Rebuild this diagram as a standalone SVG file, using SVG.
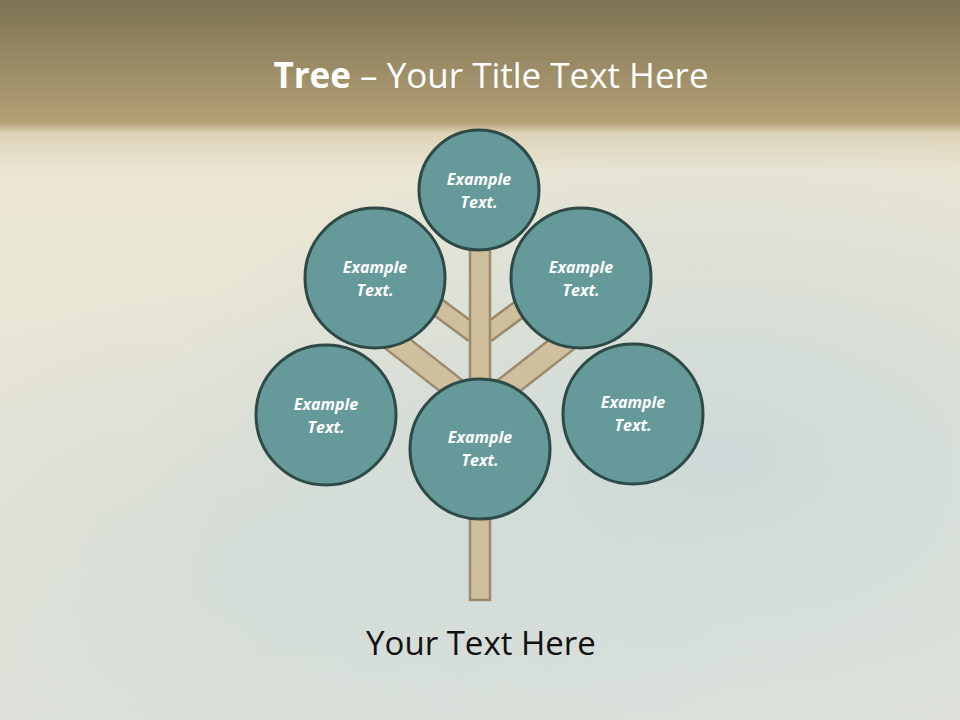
<svg xmlns="http://www.w3.org/2000/svg" width="960" height="720" viewBox="0 0 960 720">
<defs>
<linearGradient id="bg" x1="0" y1="0" x2="0" y2="1">
<stop offset="0" stop-color="#7d7353"/>
<stop offset="0.17" stop-color="#b4a176"/>
<stop offset="0.185" stop-color="#ddd3b8"/>
<stop offset="0.24" stop-color="#ebe6d4"/>
<stop offset="1" stop-color="#e0e3da"/>
</linearGradient>
<radialGradient id="blue" cx="0.75" cy="0.55" r="0.6">
<stop offset="0" stop-color="#c4d6d9" stop-opacity="0.75"/>
<stop offset="1" stop-color="#c4d6d9" stop-opacity="0"/>
</radialGradient>
<radialGradient id="blue2" cx="0.3" cy="0.75" r="0.5">
<stop offset="0" stop-color="#cad8d6" stop-opacity="0.6"/>
<stop offset="1" stop-color="#cad8d6" stop-opacity="0"/>
</radialGradient>
<style>
.node circle{fill:#669a9a;stroke:#2d4a47;stroke-width:3}
.node text{font-family:"Open Sans","Noto Sans",sans-serif;font-weight:bold;font-style:italic;font-size:16px;fill:#ffffff;text-anchor:middle}
.br-out{stroke:#9a8a6d;stroke-linecap:butt;fill:none}
.br-in{stroke:#cfbf9c;stroke-linecap:butt;fill:none}
</style>
</defs>
<rect x="0" y="0" width="960" height="720" fill="url(#bg)"/>
<rect x="0" y="135" width="960" height="585" fill="url(#blue)"/>
<rect x="0" y="135" width="960" height="585" fill="url(#blue2)"/>

<text x="491" y="88" text-anchor="middle" font-family="Open Sans, Noto Sans, sans-serif" font-size="35" fill="#ffffff"><tspan font-weight="bold">Tree</tspan> – Your Title Text Here</text>

<g id="connectors">
<line class="br-out" x1="380" y1="330" x2="472" y2="402" stroke-width="25"/>
<line class="br-in" x1="380" y1="330" x2="472" y2="402" stroke-width="20"/>
<line class="br-out" x1="580" y1="330" x2="488" y2="402" stroke-width="25"/>
<line class="br-in" x1="580" y1="330" x2="488" y2="402" stroke-width="20"/>
<line class="br-out" x1="420" y1="294" x2="474" y2="334" stroke-width="20"/>
<line class="br-in" x1="420" y1="294" x2="474" y2="334" stroke-width="15"/>
<line class="br-out" x1="540" y1="294" x2="486" y2="334" stroke-width="20"/>
<line class="br-in" x1="540" y1="294" x2="486" y2="334" stroke-width="15"/>
<rect x="470" y="240" width="20" height="360" fill="#cfbf9c" stroke="#9a8a6d" stroke-width="2.5"/>
</g>

<g id="node-top" class="node"><circle cx="479" cy="190" r="60"/><text x="479" y="185">Example</text><text x="479" y="208">Text.</text></g>
<g id="node-upper-left" class="node"><circle cx="375" cy="278" r="70"/><text x="375" y="273">Example</text><text x="375" y="296">Text.</text></g>
<g id="node-upper-right" class="node"><circle cx="581" cy="278" r="70"/><text x="581" y="273">Example</text><text x="581" y="296">Text.</text></g>
<g id="node-lower-left" class="node"><circle cx="326" cy="415" r="70"/><text x="326" y="410">Example</text><text x="326" y="433">Text.</text></g>
<g id="node-center" class="node"><circle cx="480" cy="449" r="70"/><text x="480" y="443">Example</text><text x="480" y="466">Text.</text></g>
<g id="node-right" class="node"><circle cx="633" cy="414" r="70"/><text x="633" y="408">Example</text><text x="633" y="431">Text.</text></g>

<text x="481" y="655" text-anchor="middle" font-family="Open Sans, Noto Sans, sans-serif" font-size="33" fill="#111111">Your Text Here</text>
</svg>
